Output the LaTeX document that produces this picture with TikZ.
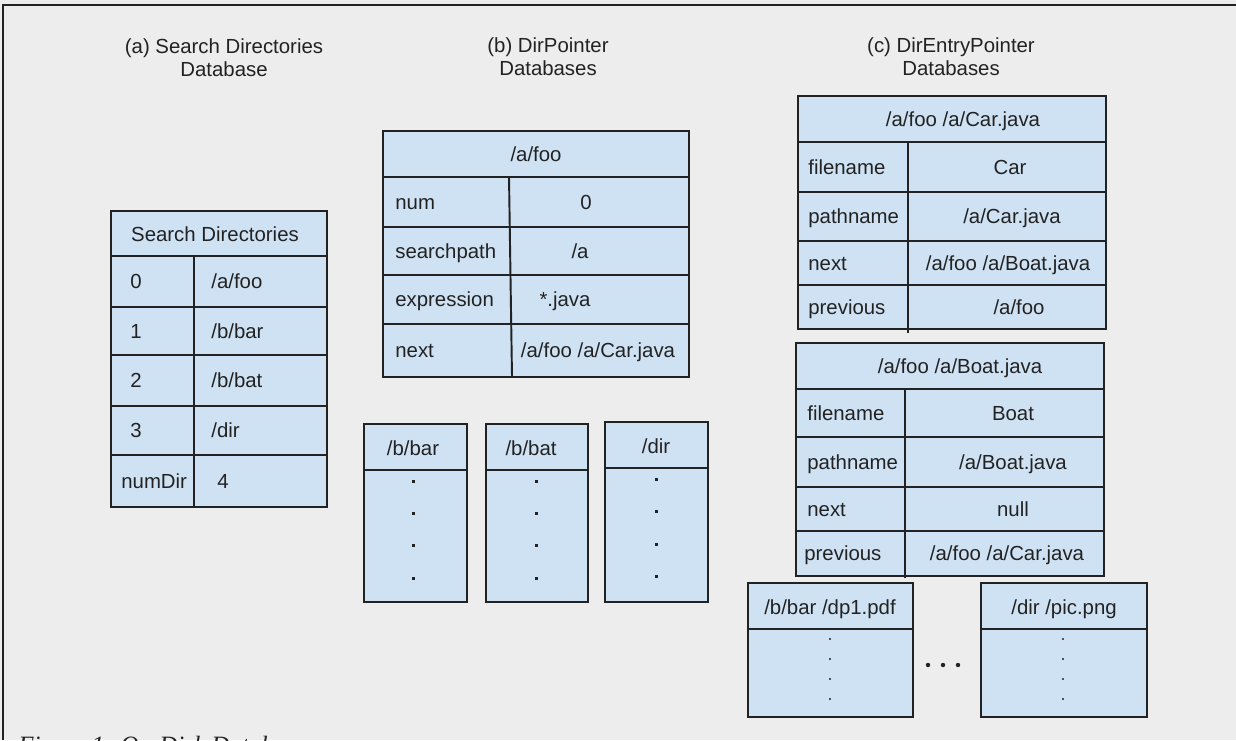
\documentclass[tikz,border=0pt]{standalone}
\usepackage{fontspec}
\setmainfont{Liberation Sans}
\newfontfamily\capfont{Liberation Serif}
\usetikzlibrary{positioning,calc}
\definecolor{cellblue}{HTML}{CFE2F3}
\definecolor{pagegray}{HTML}{EDEDED}
\definecolor{ink}{HTML}{222222}

\begin{document}
\begin{tikzpicture}[x=0.02cm, y=-0.02cm,
  box/.style={draw=ink, fill=cellblue, line width=1.1pt},
  rule/.style={draw=ink, line width=1.1pt},
  txt/.style={inner sep=0pt, text=ink, font=\fontsize{11.6}{13.3}\selectfont, text height=8.3pt, text depth=0pt},
  key/.style={txt, anchor=west},
  title/.style={inner sep=0pt, text=ink, font=\fontsize{11.6}{13.3}\selectfont, align=center, anchor=north},
  bigdot/.style={fill=ink},
  smalldot/.style={fill=ink}]
\useasboundingbox (0,0) rectangle (1236,740);
\fill[pagegray] (0,0) rectangle (1236,740);
\draw[ink, line width=0.9pt] (3,740) -- (3,5) -- (1236,5);

% titles
\node[title] (titleA) at (224,38.5) {(a) Search Directories\\Database};
\node[title] (titleB) at (548,37) {(b) DirPointer\\Databases};
\node[title] (titleC) at (951,37) {(c) DirEntryPointer\\Databases};

% (a) search directories
\draw[box] (111,211) rectangle (327,507);
\foreach \y in {256,307,355,406,455}
  \draw[rule] (111,\y) -- (327,\y);
\draw[rule] (194,256) -- (194,507);
\node[txt] (sdHead) at (215,234) {Search Directories};
\node[key] (sdK0) at (130,281.5) {0};
\node[key] (sdK1) at (130,331) {1};
\node[key] (sdK2) at (130,380.5) {2};
\node[key] (sdK3) at (130,430.5) {3};
\node[key] (sdKn) at (121,481) {numDir};
\node[key] (sdV0) at (211,281.5) {/a/foo};
\node[key] (sdV1) at (211,331) {/b/bar};
\node[key] (sdV2) at (211,380.5) {/b/bat};
\node[key] (sdV3) at (211,430.5) {/dir};
\node[key] (sdVn) at (217,481) {4};

% (b) dirpointer /a/foo
\draw[box] (383,131) rectangle (689,377);
\foreach \y in {177,227,275,324}
  \draw[rule] (383,\y) -- (689,\y);
\draw[rule] (509,177) -- (512,377);
\node[txt] (dpHead) at (536,154) {/a/foo};
\node[key] (dpNum) at (395,202) {num};
\node[key] (dpPath) at (395,251) {searchpath};
\node[key] (dpExpr) at (395,299.5) {expression};
\node[key] (dpNext) at (395,350.5) {next};
\node[txt] (dpNumV) at (586,202) {0};
\node[txt] (dpPathV) at (580,251) {/a};
\node[txt] (dpExprV) at (565,299.5) {*.java};
\node[txt] (dpNextV) at (598,350.5) {/a/foo /a/Car.java};

% (b) other dirpointers
\draw[box] (364,424) rectangle (467,602);
\draw[rule] (364,470) -- (467,470);
\node[txt] (dpBar) at (413,448) {/b/bar};
\foreach \y in {481,513,545,578}
  \fill[bigdot] (411.5,\y-1.5) rectangle (414.5,\y+1.5);
\draw[box] (486,424) rectangle (588,602);
\draw[rule] (486,470) -- (588,470);
\node[txt] (dpBat) at (531,448) {/b/bat};
\foreach \y in {481,513,545,578}
  \fill[bigdot] (534.5,\y-1.5) rectangle (537.5,\y+1.5);
\draw[box] (605,422) rectangle (708,602);
\draw[rule] (605,468) -- (708,468);
\node[txt] (dpDir) at (656,446) {/dir};
\foreach \y in {479,511,544,576}
  \fill[bigdot] (654.5,\y-1.5) rectangle (657.5,\y+1.5);

% (c) direntrypointer /a/foo /a/Car.java
\draw[box] (798,96) rectangle (1106,329);
\foreach \y in {142,192,241,285}
  \draw[rule] (798,\y) -- (1106,\y);
\draw[rule] (908,142) -- (908,333);
\node[txt] (carHead) at (963,119) {/a/foo /a/Car.java};
\node[key] (carFile) at (808,167) {filename};
\node[key] (carPath) at (808,216.5) {pathname};
\node[key] (carNext) at (808,263) {next};
\node[key] (carPrev) at (808,307) {previous};
\node[txt] (carFileV) at (1010,167) {Car};
\node[txt] (carPathV) at (1012,216.5) {/a/Car.java};
\node[txt] (carNextV) at (1008,263) {/a/foo /a/Boat.java};
\node[txt] (carPrevV) at (1019,307) {/a/foo};

% (c) direntrypointer /a/foo /a/Boat.java
\draw[box] (796,343) rectangle (1104,576);
\foreach \y in {389,437,487,531}
  \draw[rule] (796,\y) -- (1104,\y);
\draw[rule] (905,389) -- (905,578);
\node[txt] (boatHead) at (960,366) {/a/foo /a/Boat.java};
\node[key] (boatFile) at (807,413) {filename};
\node[key] (boatPath) at (807,462) {pathname};
\node[key] (boatNext) at (807,509) {next};
\node[key] (boatPrev) at (804,553.5) {previous};
\node[txt] (boatFileV) at (1013,413) {Boat};
\node[txt] (boatPathV) at (1013,462) {/a/Boat.java};
\node[txt] (boatNextV) at (1013,509) {null};
\node[txt] (boatPrevV) at (1007,553.5) {/a/foo /a/Car.java};

% (c) other direntrypointers
\draw[box] (748,583) rectangle (913,717);
\draw[rule] (748,629) -- (913,629);
\node[txt] (pdfHead) at (830,607) {/b/bar /dp1.pdf};
\foreach \y in {639,659,679,699}
  \fill[smalldot] (830,\y) circle (1.2);
\draw[box] (981,583) rectangle (1147,717);
\draw[rule] (981,629) -- (1147,629);
\node[txt] (pngHead) at (1064,607) {/dir /pic.png};
\foreach \y in {639,659,679,699}
  \fill[smalldot] (1063,\y) circle (1.2);
\foreach \x in {928,943,958}
  \fill[bigdot] (\x,665) circle (2.2);

% caption, cut off by the page edge
\node[anchor=base west, inner sep=0pt, text=ink, font=\capfont\itshape\fontsize{14.2}{17}\selectfont] (caption) at (18,753) {Figure 1: On-Disk Databases};
\end{tikzpicture}
\end{document}
